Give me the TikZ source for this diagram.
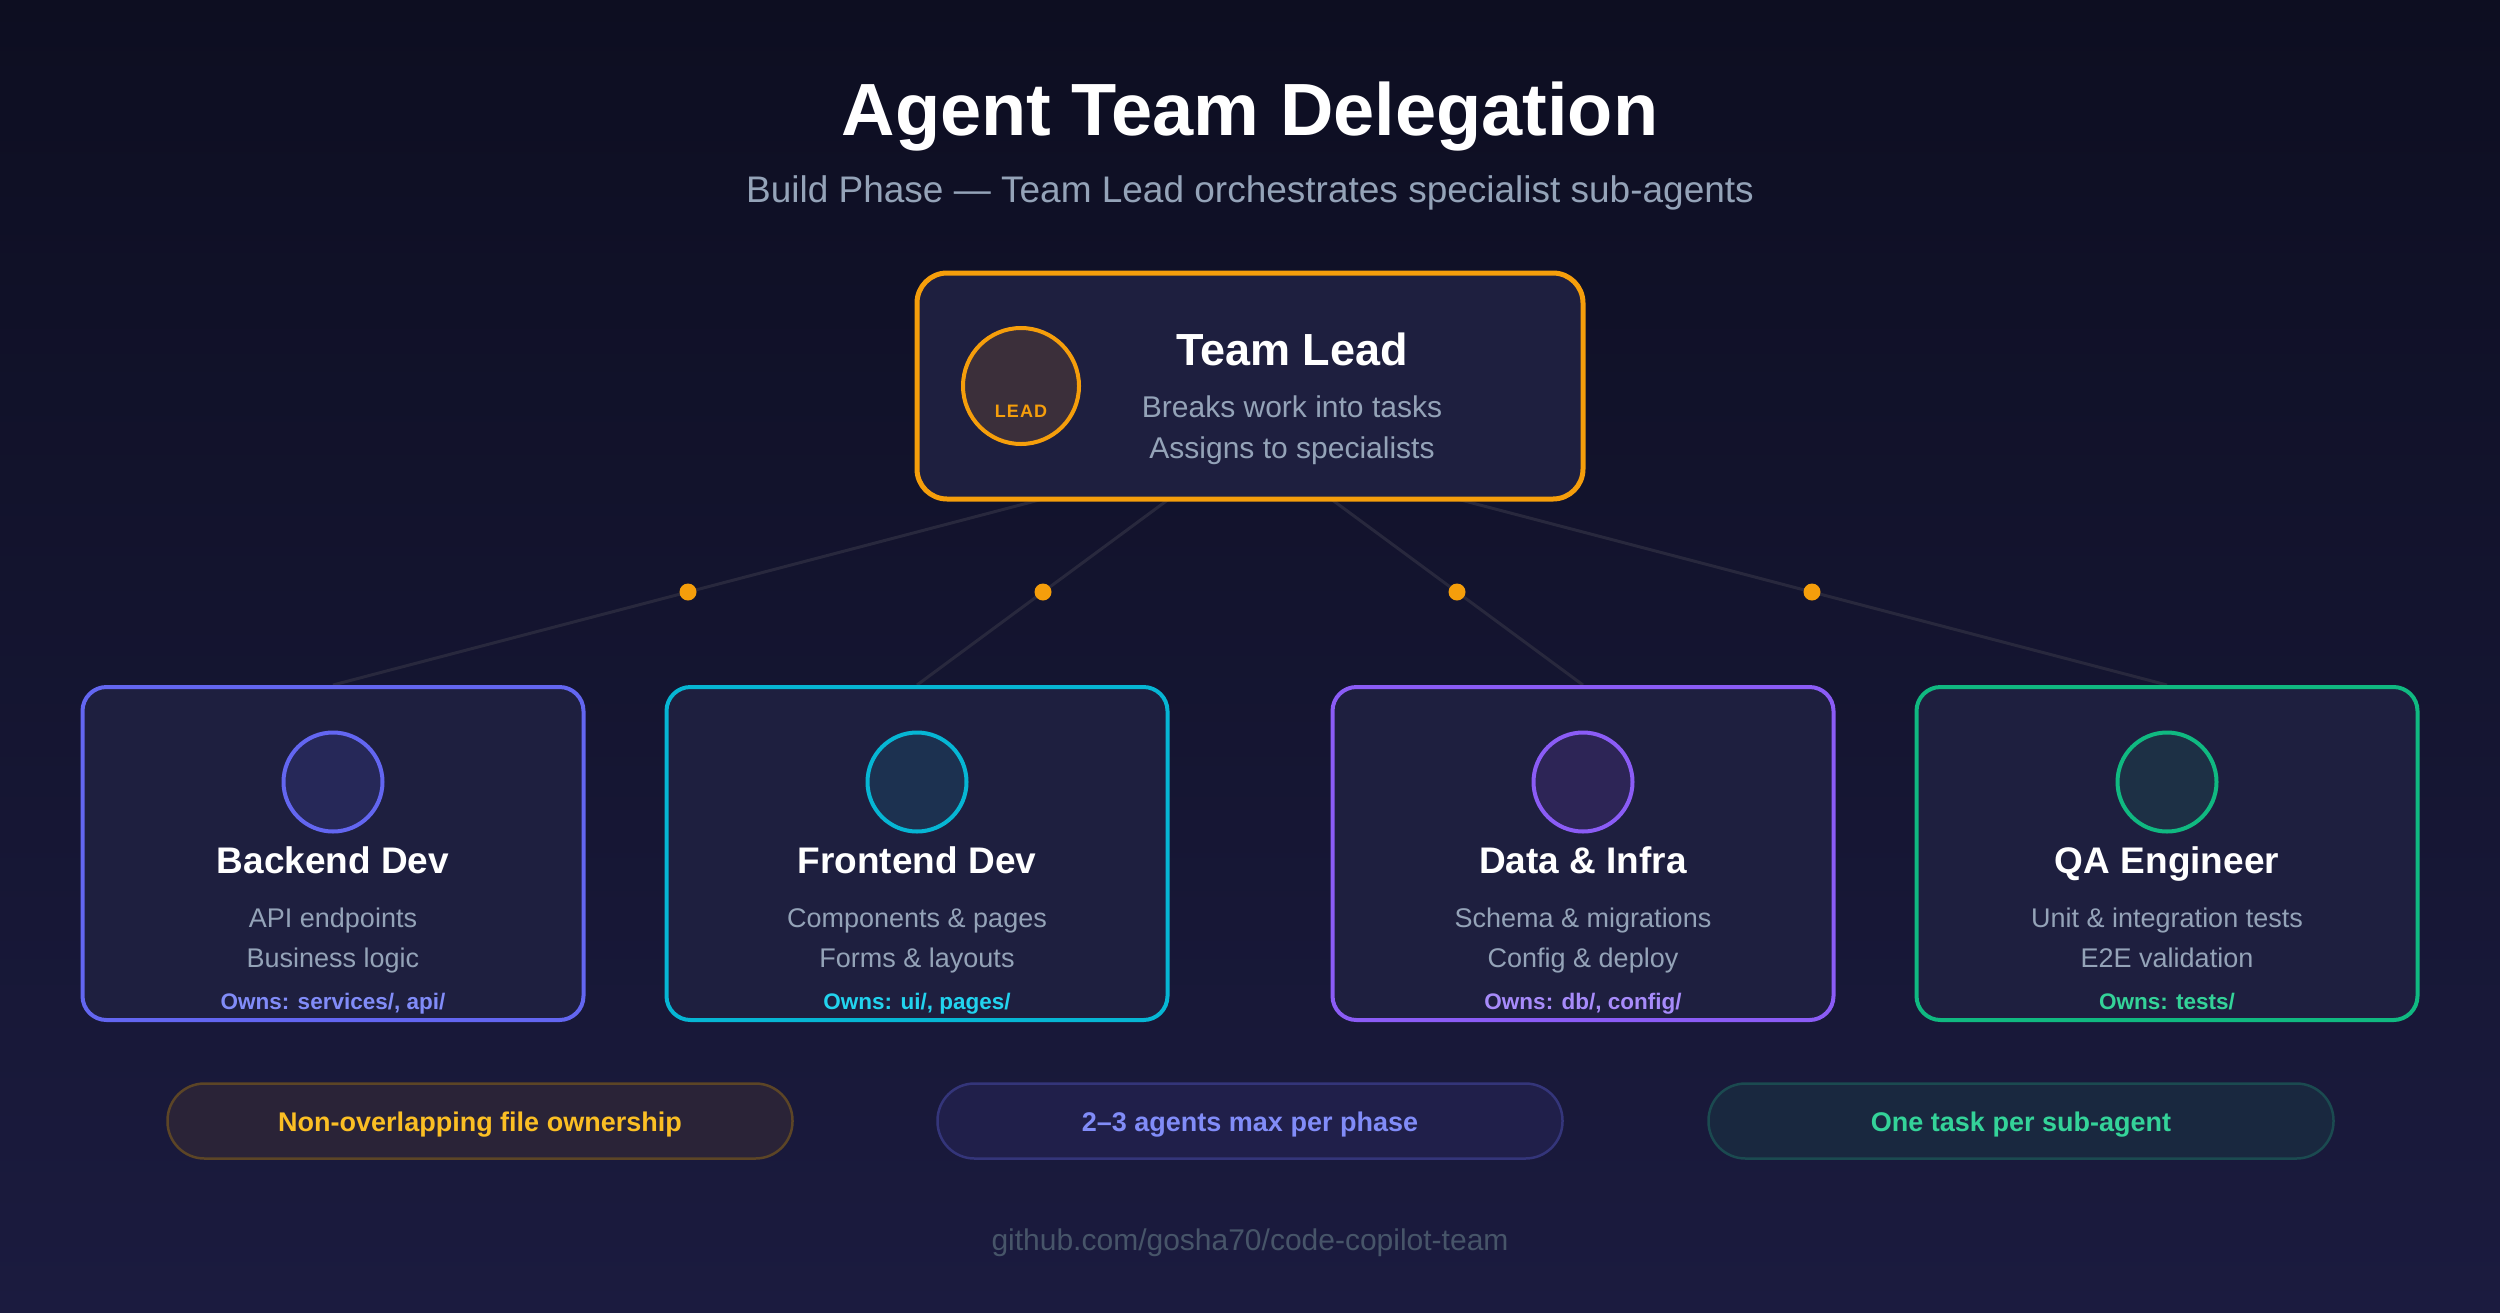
\documentclass[tikz,border=0pt]{standalone}
\usepackage{fontspec}
\setmainfont{Liberation Sans}
\usetikzlibrary{calc}
\definecolor{bgtop}{HTML}{0D0E21}
\definecolor{bgbot}{HTML}{1B1B3F}
\definecolor{boxfill}{HTML}{1E1F3F}
\definecolor{amber}{HTML}{F59E0B}
\definecolor{amberlt}{HTML}{FBBF24}
\definecolor{indigo}{HTML}{6366F1}
\definecolor{indigolt}{HTML}{818CF8}
\definecolor{cyanc}{HTML}{06B6D4}
\definecolor{cyanlt}{HTML}{22D3EE}
\definecolor{violet}{HTML}{8B5CF6}
\definecolor{violetlt}{HTML}{A78BFA}
\definecolor{emerald}{HTML}{10B981}
\definecolor{emeraldlt}{HTML}{34D399}
\definecolor{desc}{HTML}{94A3B8}
\definecolor{foot}{HTML}{475569}
\definecolor{conn}{HTML}{28283D}
\definecolor{leadfill}{HTML}{3B2F3A}
\definecolor{bkfill}{HTML}{262858}
\definecolor{frfill}{HTML}{1C3150}
\definecolor{dafill}{HTML}{2D2556}
\definecolor{qafill}{HTML}{1D3045}
\definecolor{pAfill}{HTML}{2A2337}
\definecolor{pAline}{HTML}{5C4526}
\definecolor{pBfill}{HTML}{201F4A}
\definecolor{pBline}{HTML}{34357A}
\definecolor{pCfill}{HTML}{19283F}
\definecolor{pCline}{HTML}{1B4A50}
\pgfdeclarelayer{back}
\pgfdeclarelayer{lines}
\pgfsetlayers{back,lines,main}
\begin{document}
\begin{tikzpicture}[x=1pt,y=-1pt,
  agentbox/.style={draw, rounded corners=24, line width=4, fill=boxfill,
    minimum width=501, minimum height=333, inner sep=0},
  leadbox/.style={draw=amber, rounded corners=30, line width=5, fill=boxfill,
    minimum width=666, minimum height=226, inner sep=0},
  avatar/.style={circle, draw, line width=4, minimum size=99, inner sep=0},
  connline/.style={draw=conn, line width=3},
  jdot/.style={circle, fill=amber, minimum size=17, inner sep=0},
  txt/.style={anchor=base, inner sep=0, align=center},
  ttl/.style={txt, text=white, font=\fontsize{37}{40}\selectfont\bfseries},
  dsc/.style={txt, text=desc, font=\fontsize{27}{30}\selectfont},
  own/.style={txt, font=\fontsize{22.5}{26}\selectfont\bfseries},
  pill/.style={draw, rounded corners=37, line width=2.5, minimum width=625,
    minimum height=75, inner sep=0},
  pilltxt/.style={txt, font=\fontsize{27}{30}\selectfont\bfseries}
]
\useasboundingbox (0,0) rectangle (2500,1312);
\begin{pgfonlayer}{back}
\shade[top color=bgtop, bottom color=bgbot] (0,0) rectangle (2500,1312);
\end{pgfonlayer}

% Title
\node[txt, text=white, font=\fontsize{74}{80}\selectfont\bfseries] (title) at (1250,135) {Agent Team Delegation};
\node[txt, text=desc, font=\fontsize{37}{40}\selectfont] (subtitle) at (1250,202) {Build Phase — Team Lead orchestrates specialist sub-agents};

% Team lead
\node[leadbox] (lead) at (1250,386) {};
\node[avatar, draw=amber, fill=leadfill, minimum size=116] (leadav) at (1021,386) {};
\node[txt, text=amber, font=\fontsize{18}{20}\selectfont\bfseries\addfontfeatures{LetterSpace=6}] (leadtag) at (1021,417) {LEAD};
\node[txt, text=white, font=\fontsize{45}{50}\selectfont\bfseries] (leadttl) at (1292,365) {Team Lead};
\node[txt, text=desc, font=\fontsize{30}{34}\selectfont] (leadd1) at (1292,417) {Breaks work into tasks};
\node[txt, text=desc, font=\fontsize{30}{34}\selectfont] (leadd2) at (1292,458) {Assigns to specialists};

% Agents
\node[agentbox, draw=indigo] (backend) at (333,853.5) {};
\node[avatar, draw=indigo, fill=bkfill] (bkav) at (333,782) {};
\node[ttl] (bkt) at (333,873) {Backend Dev};
\node[dsc] (bkd1) at (333,927) {API endpoints};
\node[dsc] (bkd2) at (333,967) {Business logic};
\node[own, text=indigolt] (bko) at (333,1009) {Owns: services/, api/};

\node[agentbox, draw=cyanc] (frontend) at (917,853.5) {};
\node[avatar, draw=cyanc, fill=frfill] (frav) at (917,782) {};
\node[ttl] (frt) at (917,873) {Frontend Dev};
\node[dsc] (frd1) at (917,927) {Components \& pages};
\node[dsc] (frd2) at (917,967) {Forms \& layouts};
\node[own, text=cyanlt] (fro) at (917,1009) {Owns: ui/, pages/};

\node[agentbox, draw=violet] (data) at (1583,853.5) {};
\node[avatar, draw=violet, fill=dafill] (daav) at (1583,782) {};
\node[ttl] (dat) at (1583,873) {Data \& Infra};
\node[dsc] (dad1) at (1583,927) {Schema \& migrations};
\node[dsc] (dad2) at (1583,967) {Config \& deploy};
\node[own, text=violetlt] (dao) at (1583,1009) {Owns: db/, config/};

\node[agentbox, draw=emerald] (qa) at (2167,853.5) {};
\node[avatar, draw=emerald, fill=qafill] (qaav) at (2167,782) {};
\node[ttl] (qat) at (2167,873) {QA Engineer};
\node[dsc] (qad1) at (2167,927) {Unit \& integration tests};
\node[dsc] (qad2) at (2167,967) {E2E validation};
\node[own, text=emeraldlt] (qao) at (2167,1009) {Owns: tests/};

% Connectors
\coordinate (lb1) at (1043,499);
\coordinate (lb2) at (1169,499);
\coordinate (lb3) at (1331,499);
\coordinate (lb4) at (1457,499);
\begin{pgfonlayer}{lines}
\draw[connline] (lb1) -- node[jdot, pos=0.5] (dot1) {} (backend.north);
\draw[connline] (lb2) -- node[jdot, pos=0.5] (dot2) {} (frontend.north);
\draw[connline] (lb3) -- node[jdot, pos=0.5] (dot3) {} (data.north);
\draw[connline] (lb4) -- node[jdot, pos=0.5] (dot4) {} (qa.north);
\end{pgfonlayer}

% Pills
\node[pill, draw=pAline, fill=pAfill] (pillA) at (480,1121) {};
\node[pilltxt, text=amberlt] (pillAt) at (480,1131) {Non-overlapping file ownership};
\node[pill, draw=pBline, fill=pBfill] (pillB) at (1250,1121) {};
\node[pilltxt, text=indigolt] (pillBt) at (1250,1131) {2–3 agents max per phase};
\node[pill, draw=pCline, fill=pCfill] (pillC) at (2021,1121) {};
\node[pilltxt, text=emeraldlt] (pillCt) at (2021,1131) {One task per sub-agent};

% Footer
\node[txt, text=foot, font=\fontsize{30}{32}\selectfont] (footer) at (1250,1250) {github.com/gosha70/code-copilot-team};
\end{tikzpicture}
\end{document}
